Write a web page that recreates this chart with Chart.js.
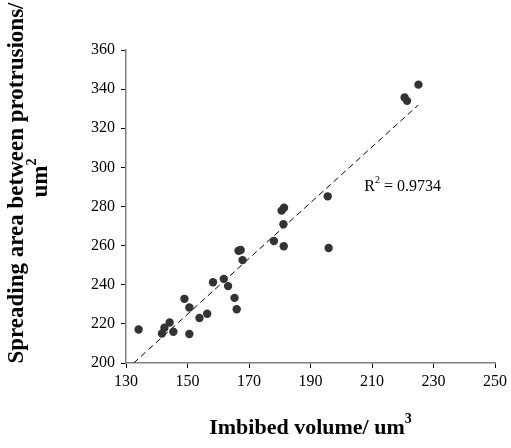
<!DOCTYPE html>
<html>
<head>
<meta charset="utf-8">
<script src="https://cdn.jsdelivr.net/npm/chart.js@4.4.1/dist/chart.umd.min.js"></script>
<style>
html,body{margin:0;padding:0;background:#fff;}
#wrap{width:511px;height:448px;position:relative;}
</style>
</head>
<body>
<div id="wrap"><canvas id="c" width="511" height="448"></canvas></div>
<script>
// Data
const imbibedVolume = [134.1,141.7,142.5,144.2,145.4,149.0,150.6,150.6,153.9,156.4,158.3,161.8,163.2,165.3,166.0,166.6,167.3,167.9,178.1,181.2,181.3,180.6,181.4,195.6,195.9,225.1,220.6,221.4];
const spreadingArea = [217.1,215.1,218.0,220.7,216.0,232.8,228.4,214.8,223.0,225.2,241.3,243.0,239.3,233.3,227.5,257.4,257.8,252.6,262.4,270.9,259.7,277.9,279.4,285.2,258.8,342.3,335.7,334.0];
const trendX = [132.5, 225.0];
const trendY = [200, 331.8];
const xTicks = [130,150,170,190,210,230,250];
const yTicks = [200,220,240,260,280,300,320,340,360];
const r2Label = "R";
const r2Value = " = 0.9734";
const yTitle1 = "Spreading area between protrusions/";
const yTitle2 = "um";
const xTitle = "Imbibed volume/ um";

const points = imbibedVolume.map((v,i)=>({x:v,y:spreadingArea[i]}));
const trend = trendX.map((v,i)=>({x:v,y:trendY[i]}));

const SERIF = '"Liberation Serif","DejaVu Serif",serif';
const TITLE = 23, SUP = 14;

const textPlugin = {
  id:'texts',
  afterDraw(chart){
    const ctx = chart.ctx;
    const xs = chart.scales.x, ys = chart.scales.y;
    ctx.save();
    ctx.fillStyle = '#000';
    ctx.textBaseline = 'alphabetic';
    // R^2 label
    const rx = xs.getPixelForValue(207.5), ry = ys.getPixelForValue(288);
    ctx.font = '16px ' + SERIF;
    ctx.textAlign = 'left';
    ctx.fillText(r2Label, rx, ry);
    const w1 = ctx.measureText(r2Label).width;
    ctx.font = '10px ' + SERIF;
    ctx.fillText('2', rx + w1, ry - 8);
    const w2 = ctx.measureText('2').width;
    ctx.font = '16px ' + SERIF;
    ctx.fillText(r2Value, rx + w1 + w2, ry);

    // X title
    const XT = 22;
    ctx.font = 'bold ' + XT + 'px ' + SERIF;
    const cx = (chart.chartArea.left + chart.chartArea.right)/2;
    const xw = ctx.measureText(xTitle).width;
    ctx.font = 'bold ' + SUP + 'px ' + SERIF;
    const sw = ctx.measureText('3').width;
    const total = xw + sw;
    ctx.font = 'bold ' + XT + 'px ' + SERIF;
    ctx.fillText(xTitle, cx - total/2, 434);
    ctx.font = 'bold ' + SUP + 'px ' + SERIF;
    ctx.fillText('3', cx - total/2 + xw, 423);

    // Y title (rotated)
    ctx.save();
    ctx.translate(23, 183);
    ctx.rotate(-Math.PI/2);
    ctx.font = 'bold ' + TITLE + 'px ' + SERIF;
    ctx.textAlign = 'center';
    ctx.fillText(yTitle1, 0, 0);
    ctx.restore();
    ctx.save();
    ctx.translate(47, 178);
    ctx.rotate(-Math.PI/2);
    ctx.font = 'bold ' + TITLE + 'px ' + SERIF;
    const uw = ctx.measureText(yTitle2).width;
    ctx.font = 'bold ' + SUP + 'px ' + SERIF;
    const u2 = ctx.measureText('2').width;
    ctx.textAlign = 'left';
    ctx.font = 'bold ' + TITLE + 'px ' + SERIF;
    ctx.fillText(yTitle2, -(uw+u2)/2, 0);
    ctx.font = 'bold ' + SUP + 'px ' + SERIF;
    ctx.fillText('2', -(uw+u2)/2 + uw, -11);
    ctx.restore();
    ctx.restore();
  }
};

new Chart(document.getElementById('c'), {
  type:'scatter',
  data:{
    datasets:[
      {data:points, backgroundColor:'#333333', borderColor:'#333333', pointRadius:4.2, pointBorderWidth:0, pointHoverRadius:4},
      {data:trend, showLine:true, borderColor:'#000', borderWidth:1, borderDash:[6,4], pointRadius:0, fill:false}
    ]
  },
  options:{
    responsive:false,
    animation:false,
    events:[],
    layout:{padding:{top:50,right:16,left:0,bottom:0}},
    plugins:{legend:{display:false}, tooltip:{enabled:false}},
    scales:{
      x:{
        type:'linear', min:130, max:250,
        afterBuildTicks:(s)=>{ s.ticks = xTicks.map(v=>({value:v})); },
        afterFit:(s)=>{ s.height = 85; },
        ticks:{font:{family:SERIF,size:16}, color:'#000', padding:4},
        grid:{display:true, drawOnChartArea:false, drawTicks:true, tickLength:5, color:'#000'},
        border:{display:true, color:'#808080', width:1.5}
      },
      y:{
        type:'linear', min:200, max:360,
        afterBuildTicks:(s)=>{ s.ticks = yTicks.map(v=>({value:v})); },
        afterFit:(s)=>{ s.width = 126; },
        ticks:{font:{family:SERIF,size:16}, color:'#000', padding:6},
        grid:{display:true, drawOnChartArea:false, drawTicks:true, tickLength:5, color:'#000'},
        border:{display:true, color:'#808080', width:1.5}
      }
    }
  },
  plugins:[textPlugin]
});
</script>
</body>
</html>
